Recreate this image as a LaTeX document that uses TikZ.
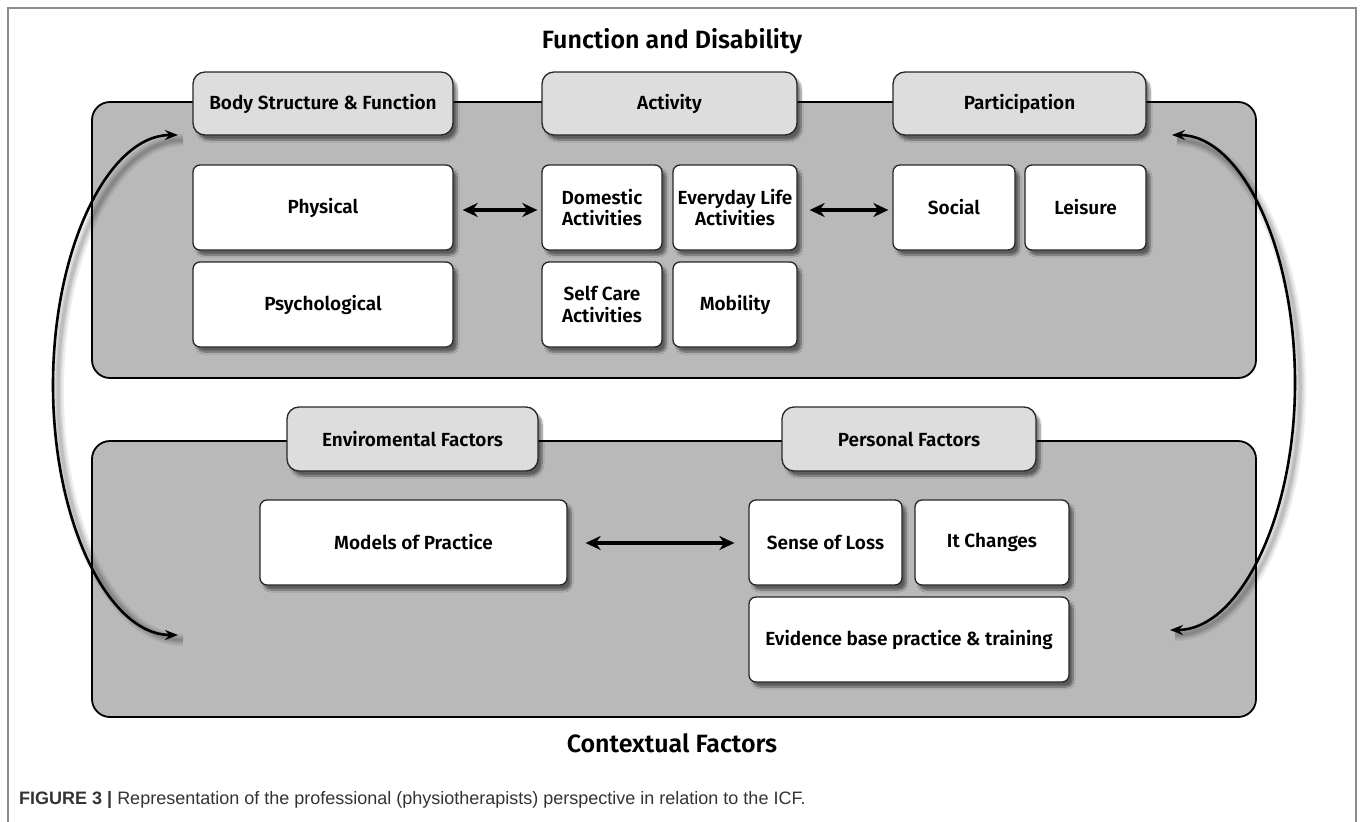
\documentclass[tikz,border=0pt]{standalone}
\usepackage{fontspec}
\setmainfont{Fira Sans}[BoldFont={Fira Sans SemiBold}]
\newfontfamily\capfont{Liberation Sans}
\usetikzlibrary{arrows.meta,shadows.blur}

\definecolor{panelgrey}{gray}{0.725}
\definecolor{tabgrey}{gray}{0.865}
\definecolor{framegrey}{gray}{0.55}
\definecolor{captext}{gray}{0.2}

\begin{document}
\begin{tikzpicture}[x=1pt,y=-1pt,
  softshadow/.style={blur shadow={shadow xshift=4pt, shadow yshift=-5pt,
      shadow blur steps=7, shadow opacity=50}},
  panel/.style={draw=black, line width=1.8pt, fill=panelgrey,
      rounded corners=18pt, inner sep=0pt},
  tab/.style={draw=black!85, line width=1.3pt, fill=tabgrey,
      rounded corners=12pt, minimum height=63pt, inner sep=0pt,
      font=\fontsize{19}{22}\selectfont\bfseries, softshadow},
  item/.style={draw=black!85, line width=1.3pt, fill=white,
      rounded corners=7pt, minimum height=85pt, inner sep=0pt, align=center,
      font=\fontsize{19}{21.5}\selectfont\bfseries, softshadow},
  heading/.style={font=\fontsize{25}{28}\selectfont\bfseries, inner sep=0pt},
  link/.style={{Stealth[length=15pt,width=14pt]}-{Stealth[length=15pt,width=14pt]},
      line width=3.5pt},
  loop/.style={{Stealth[length=13pt,width=10pt]}-{Stealth[length=13pt,width=10pt]},
      line width=2.6pt},
  loopshadow/.style={line width=#1, black, opacity=0.07,
      transform canvas={xshift=5pt, yshift=-5pt}}
]
\useasboundingbox (0,0) rectangle (1363,822);

% outer frame
\draw[framegrey, line width=1.4pt] (8,822) -- (8,8) -- (1356,8) -- (1356,822);

% headings
\node[heading] (fd) at (672,41) {Function and Disability};
\node[heading] (cf) at (672,743) {Contextual Factors};

% the two panels
\node[panel, minimum width=1164pt, minimum height=276pt] (upper) at (674,240) {};
\node[panel, minimum width=1164pt, minimum height=276pt] (lower) at (674,579) {};

% tabs of the upper panel
\node[tab, minimum width=260pt] (body) at (323,103.5) {Body Structure \& Function};
\node[tab, minimum width=255pt] (act)  at (669.5,103.5) {Activity};
\node[tab, minimum width=253pt] (part) at (1019.5,103.5) {Participation};

% items of the upper panel
\node[item, minimum width=260pt] (phys) at (323,207.5) {Physical};
\node[item, minimum width=260pt] (psy)  at (323,304.5) {Psychological};
\node[item, minimum width=120pt] (dom)  at (602,207.5) {Domestic\\Activities};
\node[item, minimum width=124pt] (life) at (735,207.5) {Everyday Life\\Activities};
\node[item, minimum width=120pt] (self) at (602,304.5) {Self Care\\Activities};
\node[item, minimum width=124pt] (mob)  at (735,304.5) {Mobility};
\node[item, minimum width=122pt] (soc)  at (954,207.5) {Social};
\node[item, minimum width=121pt] (leis) at (1085.5,207.5) {Leisure};

% tabs of the lower panel
\node[tab, minimum width=251pt, minimum height=64pt] (env)  at (412.5,439) {Enviromental Factors};
\node[tab, minimum width=254pt, minimum height=64pt] (pers) at (909,439) {Personal Factors};

% items of the lower panel
\node[item, minimum width=307pt] (mod)  at (413.5,542.5) {Models of Practice};
\node[item, minimum width=153pt] (loss) at (825.5,542.5) {Sense of Loss};
\node[item, minimum width=154pt] (chg)  at (992,542.5) {It Changes};
\node[item, minimum width=320pt] (evid) at (909,639.5) {Evidence base practice \& training};

% straight two-way links
\draw[link] ([xshift=9pt]phys.east |- 0,210) -- ([xshift=-4pt]dom.west |- 0,210);
\draw[link] ([xshift=12pt]life.east |- 0,210) -- ([xshift=-4pt]soc.west |- 0,210);
\draw[link] ([xshift=18pt]mod.east |- 0,543) -- ([xshift=-14pt]loss.west |- 0,543);

% ends of the two curved links
\coordinate (lt) at (178,135);
\coordinate (lb) at (178,635);
\coordinate (rt) at (1172,135);
\coordinate (rb) at (1170,630);

% soft shadows under the curved links
\foreach \w in {12pt,8pt,5pt,3pt}{
  \draw[loopshadow=\w] (lt) .. controls (109,135) and (53,247) .. (53,385)
                            .. controls (53,523) and (109,635) .. (lb);
  \draw[loopshadow=\w] (rt) .. controls (1240,135) and (1295,245) .. (1295,383)
                            .. controls (1295,520) and (1238,630) .. (rb);
}
\draw[loop] (lt) .. controls (109,135) and (53,247) .. (53,385)
                 .. controls (53,523) and (109,635) .. (lb);
\draw[loop] (rt) .. controls (1240,135) and (1295,245) .. (1295,383)
                 .. controls (1295,520) and (1238,630) .. (rb);

% caption
\node[anchor=west, inner sep=0pt, text=captext,
      font=\capfont\fontsize{18}{21}\selectfont] (cap) at (19,800)
  {\textbf{FIGURE 3 |} Representation of the professional (physiotherapists) perspective in relation to the ICF.};
\end{tikzpicture}
\end{document}
